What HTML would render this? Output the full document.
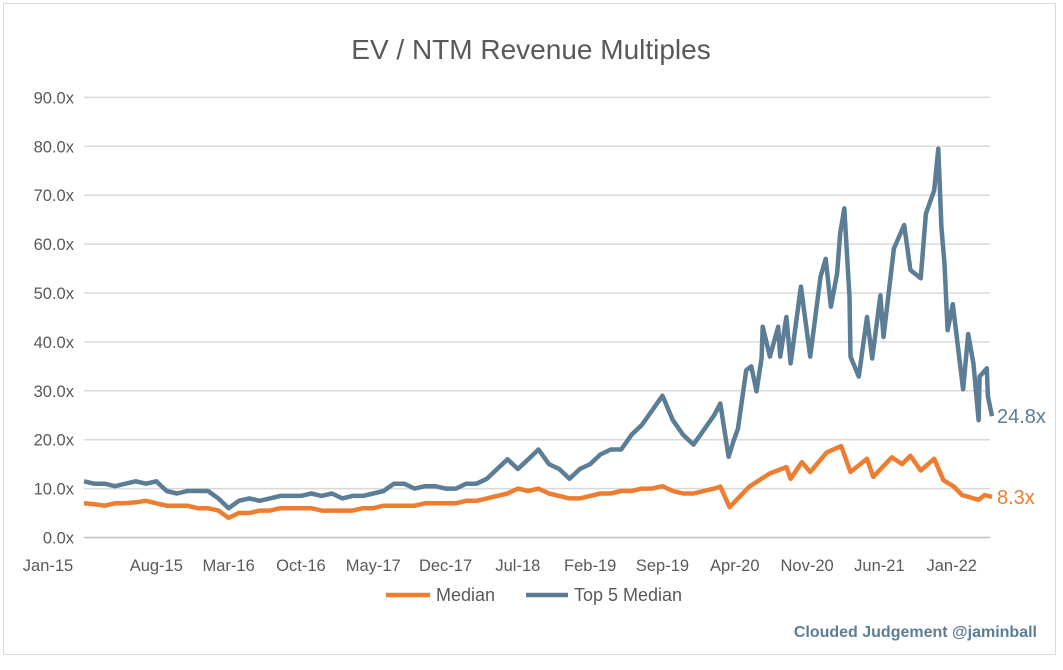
<!DOCTYPE html>
<html><head><meta charset="utf-8"><style>
body{margin:0;background:#fff;font-family:"Liberation Sans",sans-serif;}
svg text{font-family:"Liberation Sans",sans-serif;}
</style></head><body>
<svg id="chart" width="1063" height="665" viewBox="0 0 1063 665" xmlns="http://www.w3.org/2000/svg">
<rect x="3.5" y="3.5" width="1052" height="651" fill="#fff" stroke="#d9d9d9"/>
<text x="531" y="59" text-anchor="middle" font-size="28" fill="#595959">EV / NTM Revenue Multiples</text>
<g id="grid"></g><g id="yt"></g><g id="xt"></g><g id="series"></g>
<g>
<line x1="386" y1="595" x2="430" y2="595" stroke="#ed7d31" stroke-width="4.5"/>
<text x="436" y="601" font-size="18" fill="#595959">Median</text>
<line x1="526" y1="595" x2="568" y2="595" stroke="#5b7d96" stroke-width="4.5"/>
<text x="574" y="601" font-size="18" fill="#595959">Top 5 Median</text>
</g>
<text x="1037" y="637" text-anchor="end" font-size="16" font-weight="bold" fill="#5b7d96">Clouded Judgement @jaminball</text>
</svg>
<script>
const yTicks=[0,10,20,30,40,50,60,70,80,90];
const xLabels=["Jan-15","Aug-15","Mar-16","Oct-16","May-17","Dec-17","Jul-18","Feb-19","Sep-19","Apr-20","Nov-20","Jun-21","Jan-22"];
const xLabelMonths=[0,7,14,21,28,35,42,49,56,63,70,77,84];
const top5Months=[0,1,2,3,4,5,6,7,8,9,10,11,12,13,14,15,16,17,18,19,20,21,22,23,24,25,26,27,28,29,30,31,32,33,34,35,36,37,38,39,40,41,42,43,44,45,46,47,48,49,50,51,52,53,54,55,56,57,58,59,60,61,61.6,62.4,62.9,63.3,64.1,64.6,65.1,65.6,65.7,66.4,67.2,67.4,68,68.4,69.4,70.3,71.3,71.8,72.3,72.9,73.2,73.6,74.1,74.2,75,75.8,76.3,77.1,77.4,78.4,79.4,80,81,81.5,82.3,82.7,83,83.3,83.6,84.1,85.1,85.6,86.1,86.6,86.7,87.4,87.5,87.9];
const top5Values=[11.5,11,11,10.5,11,11.5,11,11.5,9.5,9,9.5,9.5,9.5,8,6,7.5,8,7.5,8,8.5,8.5,8.5,9,8.5,9,8,8.5,8.5,9,9.5,11,11,10,10.5,10.5,10,10,11,11,12,14,16,14,16,18,15,14,12,14,15,17,18,18,21,23,26,29,24,21,19,22,25,27.4,16.5,19.9,22.2,34.2,35,29.9,36.7,43.1,37,43.1,37,45.1,35.6,51.3,37,53.3,57,47.2,54,62.2,67.3,49.2,37,32.9,45.1,36.6,49.5,41,59.1,63.9,54.7,53,66.2,71,79.5,63.5,56,42.4,47.7,30.3,41.6,35.6,24,32.9,34.6,28.9,24.8];
const medianMonths=[0,1,2,3,4,5,6,7,8,9,10,11,12,13,14,15,16,17,18,19,20,21,22,23,24,25,26,27,28,29,30,31,32,33,34,35,36,37,38,39,40,41,42,43,44,45,46,47,48,49,50,51,52,53,54,55,56,57,58,59,60,61,61.6,62.5,64.4,66.4,68,68.4,69.5,70.3,71.9,73.3,74.2,75.8,76.4,78.2,79.2,80,81,82.3,83.2,84.2,85,86.6,87.2,87.9];
const medianValues=[7,6.8,6.5,7,7,7.2,7.5,7,6.5,6.5,6.5,6,6,5.5,4,5,5,5.5,5.5,6,6,6,6,5.5,5.5,5.5,5.5,6,6,6.5,6.5,6.5,6.5,7,7,7,7,7.5,7.5,8,8.5,9,10,9.5,10,9,8.5,8,8,8.5,9,9,9.5,9.5,10,10,10.5,9.5,9,9,9.5,10,10.4,6.2,10.4,13.1,14.4,12,15.4,13.4,17.4,18.7,13.4,16.1,12.4,16.4,15,16.7,13.7,16.1,11.7,10.4,8.7,7.7,8.7,8.3];
const X0=84,PXM=10.33,Y0=537.5,PXU=4.89;
const xs=m=>X0+m*PXM, ys=v=>Y0-v*PXU;
const NS="http://www.w3.org/2000/svg";
function mk(t,a,p){const e=document.createElementNS(NS,t);for(const k in a)e.setAttribute(k,a[k]);p.appendChild(e);return e;}
const grid=document.getElementById('grid'),yt=document.getElementById('yt'),xt=document.getElementById('xt'),ser=document.getElementById('series');
yTicks.forEach(v=>{
 const l=mk('line',{x1:84,x2:990,y1:ys(v),y2:ys(v),stroke:v===0?'#bfbfbf':'#d9d9d9','stroke-width':1.5},grid);
 
 
 const t=mk('text',{x:74,y:ys(v)+6,'text-anchor':'end','font-size':16.5,fill:'#595959'},yt);
 t.textContent=v.toFixed(1)+'x';
 
 
});
xLabels.forEach((s,i)=>{
 const x=i===0?48:xs(xLabelMonths[i]);
 const t=mk('text',{x:x,y:571,'text-anchor':'middle','font-size':16.5,fill:'#595959'},xt);
 t.textContent=s;
 
 
});
function line(ms,vs,c,name){
 const d=ms.map((m,i)=>(i?'L':'M')+xs(m).toFixed(1)+','+ys(vs[i]).toFixed(1)).join('');
 const p=mk('path',{d:d,fill:'none',stroke:c,'stroke-width':4.5,'stroke-linejoin':'round'},ser);
 
 
 const lv=vs[vs.length-1];
 const t=mk('text',{x:xs(ms[ms.length-1])+5,y:ys(lv)+7,'font-size':20,fill:c},ser);
 t.textContent=lv.toFixed(1)+'x';
 
 
}
line(medianMonths,medianValues,'#ed7d31','median-line');
line(top5Months,top5Values,'#5b7d96','top5-median-line');
</script>
</body></html>
